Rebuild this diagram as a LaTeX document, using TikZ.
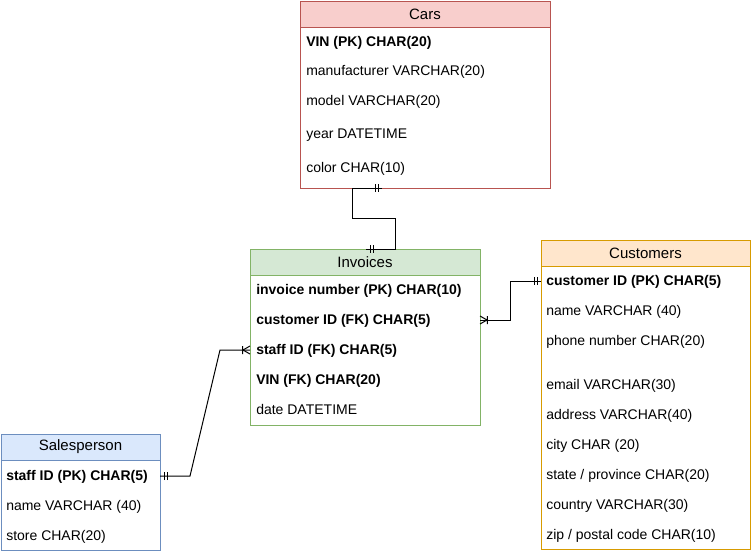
\documentclass[tikz,border=0pt]{standalone}
\usepackage{fontspec}
\setmainfont{Liberation Sans}
\usetikzlibrary{positioning,calc,decorations.markings}

\definecolor{carsfill}{HTML}{F8CECC}
\definecolor{carsline}{HTML}{B85450}
\definecolor{invfill}{HTML}{D5E8D4}
\definecolor{invline}{HTML}{82B366}
\definecolor{custfill}{HTML}{FFE6CC}
\definecolor{custline}{HTML}{D79B00}
\definecolor{salesfill}{HTML}{DAE8FC}
\definecolor{salesline}{HTML}{6C8EBF}

\begin{document}
\begin{tikzpicture}
    [
    x=0.75pt, y=-0.75pt,
    head/.style={draw, outer sep=0pt, minimum height=19.5pt, line width=0.75pt, font=\fontsize{11.25pt}{13pt}\selectfont},
    tbody/.style={draw, outer sep=0pt, inner sep=0pt, line width=0.75pt},
    row/.style={anchor=west, inner sep=0pt, text height=9.5pt, text depth=2.2pt, font=\fontsize{10.5pt}{12pt}\selectfont},
    link/.style={draw, line width=0.75pt},
    onestart/.style={postaction={decorate, decoration={markings,
        mark=at position 3pt with {\draw[line width=0.75pt] (0,-3pt) -- (0,3pt) (2.25pt,-3pt) -- (2.25pt,3pt);}}}},
    oneend/.style={postaction={decorate, decoration={markings,
        mark=at position -3pt with {\draw[line width=0.75pt] (0,-3pt) -- (0,3pt) (-2.25pt,-3pt) -- (-2.25pt,3pt);}}}},
    manyend/.style={postaction={decorate, decoration={markings,
        mark=at position 1 with {\draw[line width=0.75pt] (0,3pt) -- (-5.25pt,0) -- (0,-3pt) (-5.6pt,-3pt) -- (-5.6pt,3pt);}}}}
    ]
    \useasboundingbox (0,0) rectangle (751,554);

    % Cars
    \node [head, fill=carsfill, draw=carsline, minimum width=187.5pt] (carshead) at (425,14) {Cars};
    \node [tbody, draw=carsline, minimum width=187.5pt, minimum height=120.75pt, below=0pt of carshead] (cars) {};
    \node [row] (cars1) at (306,42) {\textbf{VIN (PK) CHAR(20)}};
    \node [row] (cars2) at (306,71) {manufacturer VARCHAR(20)};
    \node [row] (cars3) at (306,101) {model VARCHAR(20)};
    \node [row] (cars4) at (306,134) {year DATETIME};
    \node [row] (cars5) at (306,168) {color CHAR(10)};

    % Invoices
    \node [head, fill=invfill, draw=invline, minimum width=172.5pt] (invhead) at (365,262) {Invoices};
    \node [tbody, draw=invline, minimum width=172.5pt, minimum height=112.5pt, below=0pt of invhead] (inv) {};
    \node [row] (inv1) at (256,290) {\textbf{invoice number (PK) CHAR(10)}};
    \node [row] (inv2) at (256,320) {\textbf{customer ID (FK) CHAR(5)}};
    \node [row] (inv3) at (256,350) {\textbf{staff ID (FK) CHAR(5)}};
    \node [row] (inv4) at (256,380) {\textbf{VIN (FK) CHAR(20)}};
    \node [row] (inv5) at (256,410) {date DATETIME};

    % Customers
    \node [head, fill=custfill, draw=custline, minimum width=156.75pt] (custhead) at (645.5,253) {Customers};
    \node [tbody, draw=custline, minimum width=156.75pt, minimum height=212.25pt, below=0pt of custhead] (cust) {};
    \node [row] (cust1) at (546,281) {\textbf{customer ID (PK) CHAR(5)}};
    \node [row] (cust2) at (546,311) {name VARCHAR (40)};
    \node [row] (cust3) at (546,341) {phone number CHAR(20)};
    \node [row] (cust4) at (546,385) {email VARCHAR(30)};
    \node [row] (cust5) at (546,415) {address VARCHAR(40)};
    \node [row] (cust6) at (546,445) {city CHAR (20)};
    \node [row] (cust7) at (546,475) {state / province CHAR(20)};
    \node [row] (cust8) at (546,505) {country VARCHAR(30)};
    \node [row] (cust9) at (546,535) {zip / postal code CHAR(10)};

    % Salesperson
    \node [head, fill=salesfill, draw=salesline, minimum width=119.25pt] (saleshead) at (80.5,447) {Salesperson};
    \node [tbody, draw=salesline, minimum width=119.25pt, minimum height=67.5pt, below=0pt of saleshead] (sales) {};
    \node [row] (sales1) at (6,476) {\textbf{staff ID (PK) CHAR(5)}};
    \node [row] (sales2) at (6,506) {name VARCHAR (40)};
    \node [row] (sales3) at (6,536) {store CHAR(20)};

    % Relationships
    \coordinate (carsout) at ($(cars.south)+(-43,0)$);
    \coordinate (invin) at ($(invhead.north)+(1,0)$);
    \draw [link, onestart, oneend] (carsout) -- ++(-30,0) -- ++(0,30) -| ($(invhead.north)+(30,0)$) -- (invin);
    \draw [link, onestart, manyend] (cust1 -| cust.west) -- ++(-31,0) |- (inv2 -| inv.east);
    \draw [link, onestart, manyend] (sales1 -| sales.east) -- ++(30,0) -- ($(inv3 -| inv.west)+(-30,0)$) -- (inv3 -| inv.west);
\end{tikzpicture}
\end{document}
